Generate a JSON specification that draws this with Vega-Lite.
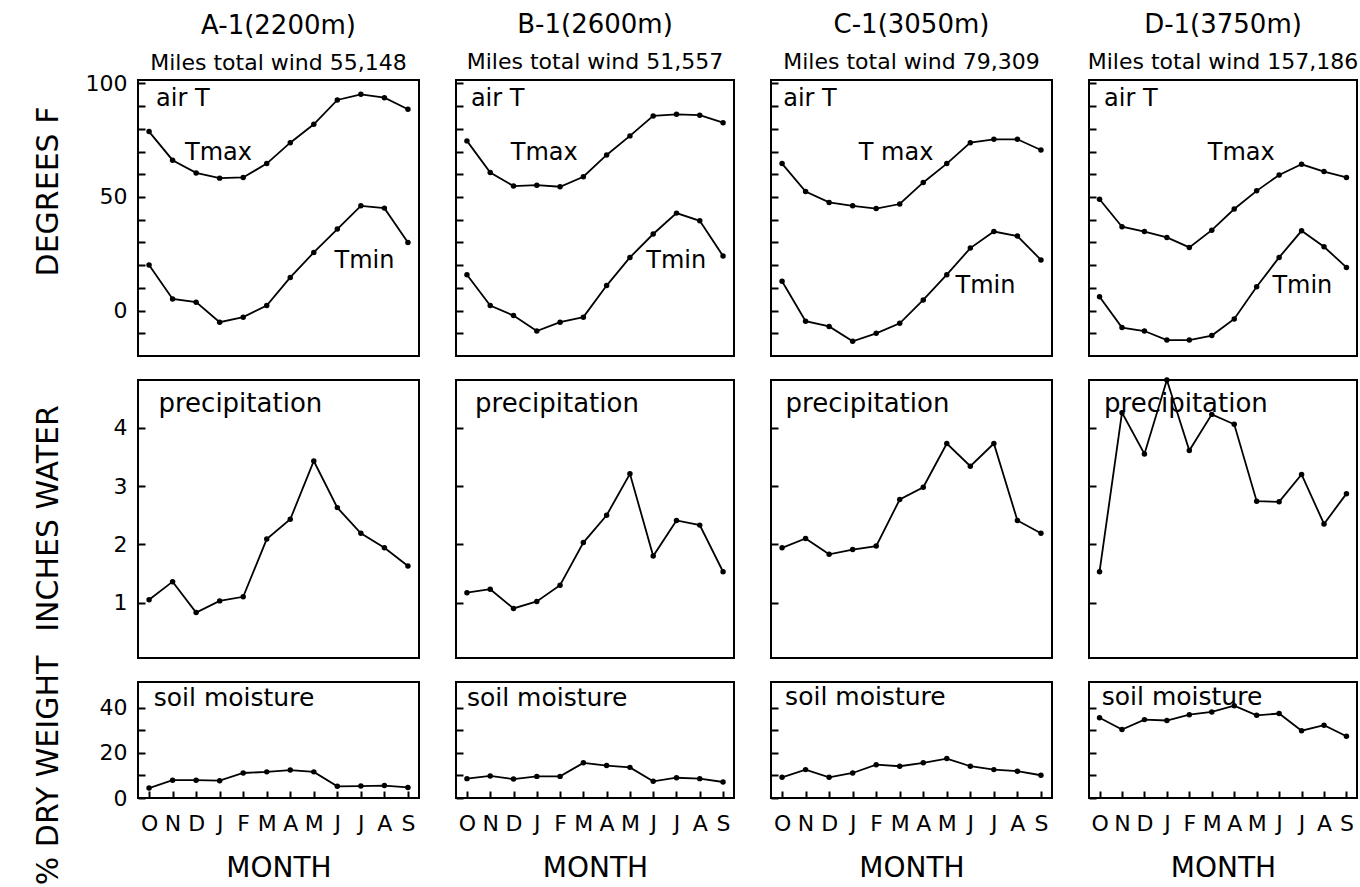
{
"$schema": "https://vega.github.io/schema/vega-lite/v6.json",
"background": "white",
"padding": {"left": 31, "top": 11, "right": 0, "bottom": 0},
"config": {
  "font": "DejaVu Sans",
  "view": {"stroke": "black", "strokeWidth": 2},
  "axis": {"domain": false, "grid": false, "tickColor": "black", "tickWidth": 2, "tickSize": -7, "labelColor": "black", "labelFontSize": 22, "labelFont": "DejaVu Sans", "titleColor": "black", "titleFontSize": 30, "titleFontWeight": "normal", "titleFont": "DejaVu Sans"},
  "title": {"fontSize": 26, "fontWeight": "normal", "color": "black", "subtitleFontSize": 22, "subtitleColor": "black", "subtitlePadding": 14, "offset": 7, "anchor": "middle", "frame": "group", "font": "DejaVu Sans", "subtitleFont": "DejaVu Sans"}
},
"datasets": {
  "main": [
    {"s":"A","m":0,"tmax":78.8,"tmin":20.1,"p":1.05,"sm":4.4},
    {"s":"A","m":1,"tmax":66.2,"tmin":5.1,"p":1.36,"sm":7.9},
    {"s":"A","m":2,"tmax":60.6,"tmin":3.7,"p":0.83,"sm":7.9},
    {"s":"A","m":3,"tmax":58.3,"tmin":-5.1,"p":1.03,"sm":7.7},
    {"s":"A","m":4,"tmax":58.6,"tmin":-2.9,"p":1.10,"sm":11.1},
    {"s":"A","m":5,"tmax":64.7,"tmin":2.2,"p":2.09,"sm":11.6},
    {"s":"A","m":6,"tmax":73.9,"tmin":14.6,"p":2.43,"sm":12.4},
    {"s":"A","m":7,"tmax":82.0,"tmin":25.6,"p":3.43,"sm":11.6},
    {"s":"A","m":8,"tmax":92.7,"tmin":35.9,"p":2.63,"sm":5.2},
    {"s":"A","m":9,"tmax":95.2,"tmin":46.1,"p":2.19,"sm":5.3},
    {"s":"A","m":10,"tmax":93.7,"tmin":45.1,"p":1.94,"sm":5.5},
    {"s":"A","m":11,"tmax":88.6,"tmin":30.0,"p":1.63,"sm":4.7},
    {"s":"B","m":0,"tmax":74.7,"tmin":15.8,"p":1.17,"sm":8.6},
    {"s":"B","m":1,"tmax":60.8,"tmin":2.2,"p":1.23,"sm":9.8},
    {"s":"B","m":2,"tmax":54.8,"tmin":-2.2,"p":0.90,"sm":8.4},
    {"s":"B","m":3,"tmax":55.2,"tmin":-9.0,"p":1.02,"sm":9.6},
    {"s":"B","m":4,"tmax":54.5,"tmin":-5.1,"p":1.30,"sm":9.6},
    {"s":"B","m":5,"tmax":58.9,"tmin":-2.9,"p":2.03,"sm":15.6},
    {"s":"B","m":6,"tmax":68.5,"tmin":11.0,"p":2.50,"sm":14.4},
    {"s":"B","m":7,"tmax":76.9,"tmin":23.4,"p":3.21,"sm":13.6},
    {"s":"B","m":8,"tmax":85.7,"tmin":33.7,"p":1.80,"sm":7.4},
    {"s":"B","m":9,"tmax":86.4,"tmin":42.9,"p":2.41,"sm":9.0},
    {"s":"B","m":10,"tmax":86.0,"tmin":39.5,"p":2.33,"sm":8.6},
    {"s":"B","m":11,"tmax":82.7,"tmin":24.0,"p":1.53,"sm":7.1},
    {"s":"C","m":0,"tmax":64.7,"tmin":12.9,"p":1.94,"sm":9.2},
    {"s":"C","m":1,"tmax":52.4,"tmin":-4.7,"p":2.10,"sm":12.6},
    {"s":"C","m":2,"tmax":47.6,"tmin":-7.0,"p":1.83,"sm":9.2},
    {"s":"C","m":3,"tmax":46.1,"tmin":-13.5,"p":1.91,"sm":11.1},
    {"s":"C","m":4,"tmax":44.9,"tmin":-10.0,"p":1.97,"sm":14.8},
    {"s":"C","m":5,"tmax":46.9,"tmin":-5.6,"p":2.77,"sm":14.1},
    {"s":"C","m":6,"tmax":56.4,"tmin":4.7,"p":2.98,"sm":15.6},
    {"s":"C","m":7,"tmax":64.7,"tmin":15.8,"p":3.73,"sm":17.5},
    {"s":"C","m":8,"tmax":73.9,"tmin":27.5,"p":3.34,"sm":14.1},
    {"s":"C","m":9,"tmax":75.4,"tmin":34.8,"p":3.73,"sm":12.6},
    {"s":"C","m":10,"tmax":75.4,"tmin":32.8,"p":2.41,"sm":11.9},
    {"s":"C","m":11,"tmax":70.7,"tmin":22.3,"p":2.19,"sm":10.1},
    {"s":"D","m":0,"tmax":49.0,"tmin":6.1,"p":1.53,"sm":35.6},
    {"s":"D","m":1,"tmax":36.9,"tmin":-7.5,"p":4.26,"sm":30.4},
    {"s":"D","m":2,"tmax":34.8,"tmin":-9.0,"p":3.55,"sm":34.8},
    {"s":"D","m":3,"tmax":32.2,"tmin":-13.0,"p":4.82,"sm":34.4},
    {"s":"D","m":4,"tmax":27.8,"tmin":-13.0,"p":3.61,"sm":37.0},
    {"s":"D","m":5,"tmax":35.4,"tmin":-11.0,"p":4.23,"sm":38.2},
    {"s":"D","m":6,"tmax":44.7,"tmin":-3.7,"p":4.06,"sm":41.0},
    {"s":"D","m":7,"tmax":52.7,"tmin":10.5,"p":2.74,"sm":36.7},
    {"s":"D","m":8,"tmax":59.7,"tmin":23.4,"p":2.73,"sm":37.5},
    {"s":"D","m":9,"tmax":64.4,"tmin":35.1,"p":3.20,"sm":29.9},
    {"s":"D","m":10,"tmax":61.2,"tmin":28.1,"p":2.35,"sm":32.3},
    {"s":"D","m":11,"tmax":58.6,"tmin":19.0,"p":2.87,"sm":27.4}
  ],
  "labels": [
    {"s":"A","r":"t","m":0.3,"v":93,"t":"air T"},
    {"s":"A","r":"t","m":1.53,"v":69.3,"t":"Tmax"},
    {"s":"A","r":"t","m":7.88,"v":21.9,"t":"Tmin"},
    {"s":"B","r":"t","m":0.17,"v":93,"t":"air T"},
    {"s":"B","r":"t","m":1.88,"v":69.3,"t":"Tmax"},
    {"s":"B","r":"t","m":7.7,"v":21.9,"t":"Tmin"},
    {"s":"C","r":"t","m":0.05,"v":93,"t":"air T"},
    {"s":"C","r":"t","m":3.26,"v":69.3,"t":"T max"},
    {"s":"C","r":"t","m":7.37,"v":11,"t":"Tmin"},
    {"s":"D","r":"t","m":0.2,"v":93,"t":"air T"},
    {"s":"D","r":"t","m":4.82,"v":69.3,"t":"Tmax"},
    {"s":"D","r":"t","m":7.7,"v":11,"t":"Tmin"},
    {"s":"A","r":"p","m":0.4,"v":4.41,"t":"precipitation"},
    {"s":"B","r":"p","m":0.35,"v":4.41,"t":"precipitation"},
    {"s":"C","r":"p","m":0.15,"v":4.41,"t":"precipitation"},
    {"s":"D","r":"p","m":0.2,"v":4.41,"t":"precipitation"},
    {"s":"A","r":"s","m":0.2,"v":44.5,"t":"soil moisture"},
    {"s":"B","r":"s","m":0.0,"v":44.5,"t":"soil moisture"},
    {"s":"C","r":"s","m":0.13,"v":45,"t":"soil moisture"},
    {"s":"D","r":"s","m":0.1,"v":45,"t":"soil moisture"}
  ]
},
"data": {"name": "main"},
"columns": 4,
"spacing": {"row": 24, "column": 37},
"bounds": "flush",
"concat": [
    {"width": 281, "height": 276,
     "title": {"text": "A-1(2200m)", "subtitle": "Miles total wind 55,148", "offset": -2},
     "transform": [{"filter": "datum.s=='A'"}, {"fold": ["tmax","tmin"], "as": ["k","v"]}],
     "encoding": {
       "x": {"field":"m","type":"quantitative","scale":{"domain":[-0.47,11.47],"nice":false,"zero":false},"axis":null},
       "y": {"field":"v","type":"quantitative","scale":{"domain":[-20,101.5],"nice":false,"zero":false},
             "axis":{"values":[-10,0,10,20,30,40,50,60,70,80,90,100],"labelExpr":"datum.value % 50 === 0 ? datum.label : ''","labelPadding":18,"title":"DEGREES F","titleX":-90,"titleY":111,"titleBaseline":"middle","titleAlign":"center"}}},
     "layer": [
       {"mark": {"type":"line","color":"black","strokeWidth":1.8}, "encoding": {"detail":{"field":"k"}}},
       {"mark": {"type":"point","filled":true,"color":"black","size":30,"opacity":1}},
       {"data":{"name":"labels"},"transform":[{"filter":"datum.s=='A' && datum.r=='t'"}],"mark":{"type":"text","align":"left","baseline":"middle","fontSize":24,"color":"black"},"encoding":{"text":{"field":"t"}}}
     ]},
    {"width": 278, "height": 276,
     "title": {"text": "B-1(2600m)", "subtitle": "Miles total wind 51,557"},
     "transform": [{"filter": "datum.s=='B'"}, {"fold": ["tmax","tmin"], "as": ["k","v"]}],
     "encoding": {
       "x": {"field":"m","type":"quantitative","scale":{"domain":[-0.47,11.47],"nice":false,"zero":false},"axis":null},
       "y": {"field":"v","type":"quantitative","scale":{"domain":[-20,101.5],"nice":false,"zero":false},
             "axis":{"values":[-10,0,10,20,30,40,50,60,70,80,90,100],"labels":false,"title":null}}},
     "layer": [
       {"mark": {"type":"line","color":"black","strokeWidth":1.8}, "encoding": {"detail":{"field":"k"}}},
       {"mark": {"type":"point","filled":true,"color":"black","size":30,"opacity":1}},
       {"data":{"name":"labels"},"transform":[{"filter":"datum.s=='B' && datum.r=='t'"}],"mark":{"type":"text","align":"left","baseline":"middle","fontSize":24,"color":"black"},"encoding":{"text":{"field":"t"}}}
     ]},
    {"width": 281, "height": 276,
     "title": {"text": "C-1(3050m)", "subtitle": "Miles total wind 79,309"},
     "transform": [{"filter": "datum.s=='C'"}, {"fold": ["tmax","tmin"], "as": ["k","v"]}],
     "encoding": {
       "x": {"field":"m","type":"quantitative","scale":{"domain":[-0.47,11.47],"nice":false,"zero":false},"axis":null},
       "y": {"field":"v","type":"quantitative","scale":{"domain":[-20,101.5],"nice":false,"zero":false},
             "axis":{"values":[-10,0,10,20,30,40,50,60,70,80,90,100],"labels":false,"title":null}}},
     "layer": [
       {"mark": {"type":"line","color":"black","strokeWidth":1.8}, "encoding": {"detail":{"field":"k"}}},
       {"mark": {"type":"point","filled":true,"color":"black","size":30,"opacity":1}},
       {"data":{"name":"labels"},"transform":[{"filter":"datum.s=='C' && datum.r=='t'"}],"mark":{"type":"text","align":"left","baseline":"middle","fontSize":24,"color":"black"},"encoding":{"text":{"field":"t"}}}
     ]},
    {"width": 268, "height": 276,
     "title": {"text": "D-1(3750m)", "subtitle": "Miles total wind 157,186"},
     "transform": [{"filter": "datum.s=='D'"}, {"fold": ["tmax","tmin"], "as": ["k","v"]}],
     "encoding": {
       "x": {"field":"m","type":"quantitative","scale":{"domain":[-0.47,11.47],"nice":false,"zero":false},"axis":null},
       "y": {"field":"v","type":"quantitative","scale":{"domain":[-20,101.5],"nice":false,"zero":false},
             "axis":{"values":[-10,0,10,20,30,40,50,60,70,80,90,100],"labels":false,"title":null}}},
     "layer": [
       {"mark": {"type":"line","color":"black","strokeWidth":1.8}, "encoding": {"detail":{"field":"k"}}},
       {"mark": {"type":"point","filled":true,"color":"black","size":30,"opacity":1}},
       {"data":{"name":"labels"},"transform":[{"filter":"datum.s=='D' && datum.r=='t'"}],"mark":{"type":"text","align":"left","baseline":"middle","fontSize":24,"color":"black"},"encoding":{"text":{"field":"t"}}}
     ]},
    {"width": 281, "height": 278,
     "transform": [{"filter": "datum.s=='A'"}, {"fold": ["p"], "as": ["k","v"]}],
     "encoding": {
       "x": {"field":"m","type":"quantitative","scale":{"domain":[-0.47,11.47],"nice":false,"zero":false},"axis":null},
       "y": {"field":"v","type":"quantitative","scale":{"domain":[0.05,4.82],"nice":false,"zero":false},
             "axis":{"values":[1,2,3,4],"labelPadding":18,"title":"INCHES WATER","titleX":-90,"titleY":138,"titleBaseline":"middle","titleAlign":"center"}}},
     "layer": [
       {"mark": {"type":"line","color":"black","strokeWidth":1.8}, "encoding": {}},
       {"mark": {"type":"point","filled":true,"color":"black","size":30,"opacity":1}},
       {"data":{"name":"labels"},"transform":[{"filter":"datum.s=='A' && datum.r=='p'"}],"mark":{"type":"text","align":"left","baseline":"middle","fontSize":26,"color":"black"},"encoding":{"text":{"field":"t"}}}
     ]},
    {"width": 278, "height": 278,
     "transform": [{"filter": "datum.s=='B'"}, {"fold": ["p"], "as": ["k","v"]}],
     "encoding": {
       "x": {"field":"m","type":"quantitative","scale":{"domain":[-0.47,11.47],"nice":false,"zero":false},"axis":null},
       "y": {"field":"v","type":"quantitative","scale":{"domain":[0.05,4.82],"nice":false,"zero":false},
             "axis":{"values":[1,2,3,4],"labels":false,"title":null}}},
     "layer": [
       {"mark": {"type":"line","color":"black","strokeWidth":1.8}, "encoding": {}},
       {"mark": {"type":"point","filled":true,"color":"black","size":30,"opacity":1}},
       {"data":{"name":"labels"},"transform":[{"filter":"datum.s=='B' && datum.r=='p'"}],"mark":{"type":"text","align":"left","baseline":"middle","fontSize":26,"color":"black"},"encoding":{"text":{"field":"t"}}}
     ]},
    {"width": 281, "height": 278,
     "transform": [{"filter": "datum.s=='C'"}, {"fold": ["p"], "as": ["k","v"]}],
     "encoding": {
       "x": {"field":"m","type":"quantitative","scale":{"domain":[-0.47,11.47],"nice":false,"zero":false},"axis":null},
       "y": {"field":"v","type":"quantitative","scale":{"domain":[0.05,4.82],"nice":false,"zero":false},
             "axis":{"values":[1,2,3,4],"labels":false,"title":null}}},
     "layer": [
       {"mark": {"type":"line","color":"black","strokeWidth":1.8}, "encoding": {}},
       {"mark": {"type":"point","filled":true,"color":"black","size":30,"opacity":1}},
       {"data":{"name":"labels"},"transform":[{"filter":"datum.s=='C' && datum.r=='p'"}],"mark":{"type":"text","align":"left","baseline":"middle","fontSize":26,"color":"black"},"encoding":{"text":{"field":"t"}}}
     ]},
    {"width": 268, "height": 278,
     "transform": [{"filter": "datum.s=='D'"}, {"fold": ["p"], "as": ["k","v"]}],
     "encoding": {
       "x": {"field":"m","type":"quantitative","scale":{"domain":[-0.47,11.47],"nice":false,"zero":false},"axis":null},
       "y": {"field":"v","type":"quantitative","scale":{"domain":[0.05,4.82],"nice":false,"zero":false},
             "axis":{"values":[1,2,3,4],"labels":false,"title":null}}},
     "layer": [
       {"mark": {"type":"line","color":"black","strokeWidth":1.8}, "encoding": {}},
       {"mark": {"type":"point","filled":true,"color":"black","size":30,"opacity":1}},
       {"data":{"name":"labels"},"transform":[{"filter":"datum.s=='D' && datum.r=='p'"}],"mark":{"type":"text","align":"left","baseline":"middle","fontSize":26,"color":"black"},"encoding":{"text":{"field":"t"}}}
     ]},
    {"width": 281, "height": 116,
     "transform": [{"filter": "datum.s=='A'"}, {"fold": ["sm"], "as": ["k","v"]}],
     "encoding": {
       "x": {"field":"m","type":"quantitative","scale":{"domain":[-0.47,11.47],"nice":false,"zero":false},
             "axis":{"values":[0,1,2,3,4,5,6,7,8,9,10,11],"labelExpr":"['O','N','D','J','F','M','A','M','J','J','A','S'][datum.value]","labelFontSize":22,"labelBaseline":"middle","labelPadding":32,"labelFlush":false,"labelOverlap":false,"title":"MONTH","titleFontSize":28,"titleY":70,"titleBaseline":"middle"}},
       "y": {"field":"v","type":"quantitative","scale":{"domain":[0,51.5],"nice":false,"zero":false},
             "axis":{"values":[0,10,20,30,40],"labelExpr":"datum.value % 20 === 0 ? datum.label : ''","labelPadding":18,"title":"% DRY WEIGHT","titleX":-90,"titleY":88,"titleBaseline":"middle","titleAlign":"center"}}},
     "layer": [
       {"mark": {"type":"line","color":"black","strokeWidth":1.8}, "encoding": {}},
       {"mark": {"type":"point","filled":true,"color":"black","size":30,"opacity":1}},
       {"data":{"name":"labels"},"transform":[{"filter":"datum.s=='A' && datum.r=='s'"}],"mark":{"type":"text","align":"left","baseline":"middle","fontSize":25,"color":"black"},"encoding":{"text":{"field":"t"}}}
     ]},
    {"width": 278, "height": 116,
     "transform": [{"filter": "datum.s=='B'"}, {"fold": ["sm"], "as": ["k","v"]}],
     "encoding": {
       "x": {"field":"m","type":"quantitative","scale":{"domain":[-0.47,11.47],"nice":false,"zero":false},
             "axis":{"values":[0,1,2,3,4,5,6,7,8,9,10,11],"labelExpr":"['O','N','D','J','F','M','A','M','J','J','A','S'][datum.value]","labelFontSize":22,"labelBaseline":"middle","labelPadding":32,"labelFlush":false,"labelOverlap":false,"title":"MONTH","titleFontSize":28,"titleY":70,"titleBaseline":"middle"}},
       "y": {"field":"v","type":"quantitative","scale":{"domain":[0,51.5],"nice":false,"zero":false},
             "axis":{"values":[0,10,20,30,40],"labels":false,"title":null}}},
     "layer": [
       {"mark": {"type":"line","color":"black","strokeWidth":1.8}, "encoding": {}},
       {"mark": {"type":"point","filled":true,"color":"black","size":30,"opacity":1}},
       {"data":{"name":"labels"},"transform":[{"filter":"datum.s=='B' && datum.r=='s'"}],"mark":{"type":"text","align":"left","baseline":"middle","fontSize":25,"color":"black"},"encoding":{"text":{"field":"t"}}}
     ]},
    {"width": 281, "height": 116,
     "transform": [{"filter": "datum.s=='C'"}, {"fold": ["sm"], "as": ["k","v"]}],
     "encoding": {
       "x": {"field":"m","type":"quantitative","scale":{"domain":[-0.47,11.47],"nice":false,"zero":false},
             "axis":{"values":[0,1,2,3,4,5,6,7,8,9,10,11],"labelExpr":"['O','N','D','J','F','M','A','M','J','J','A','S'][datum.value]","labelFontSize":22,"labelBaseline":"middle","labelPadding":32,"labelFlush":false,"labelOverlap":false,"title":"MONTH","titleFontSize":28,"titleY":70,"titleBaseline":"middle"}},
       "y": {"field":"v","type":"quantitative","scale":{"domain":[0,51.5],"nice":false,"zero":false},
             "axis":{"values":[0,10,20,30,40],"labels":false,"title":null}}},
     "layer": [
       {"mark": {"type":"line","color":"black","strokeWidth":1.8}, "encoding": {}},
       {"mark": {"type":"point","filled":true,"color":"black","size":30,"opacity":1}},
       {"data":{"name":"labels"},"transform":[{"filter":"datum.s=='C' && datum.r=='s'"}],"mark":{"type":"text","align":"left","baseline":"middle","fontSize":25,"color":"black"},"encoding":{"text":{"field":"t"}}}
     ]},
    {"width": 268, "height": 116,
     "transform": [{"filter": "datum.s=='D'"}, {"fold": ["sm"], "as": ["k","v"]}],
     "encoding": {
       "x": {"field":"m","type":"quantitative","scale":{"domain":[-0.47,11.47],"nice":false,"zero":false},
             "axis":{"values":[0,1,2,3,4,5,6,7,8,9,10,11],"labelExpr":"['O','N','D','J','F','M','A','M','J','J','A','S'][datum.value]","labelFontSize":22,"labelBaseline":"middle","labelPadding":32,"labelFlush":false,"labelOverlap":false,"title":"MONTH","titleFontSize":28,"titleY":70,"titleBaseline":"middle"}},
       "y": {"field":"v","type":"quantitative","scale":{"domain":[0,51.5],"nice":false,"zero":false},
             "axis":{"values":[0,10,20,30,40],"labels":false,"title":null}}},
     "layer": [
       {"mark": {"type":"line","color":"black","strokeWidth":1.8}, "encoding": {}},
       {"mark": {"type":"point","filled":true,"color":"black","size":30,"opacity":1}},
       {"data":{"name":"labels"},"transform":[{"filter":"datum.s=='D' && datum.r=='s'"}],"mark":{"type":"text","align":"left","baseline":"middle","fontSize":25,"color":"black"},"encoding":{"text":{"field":"t"}}}
     ]}
]
}
